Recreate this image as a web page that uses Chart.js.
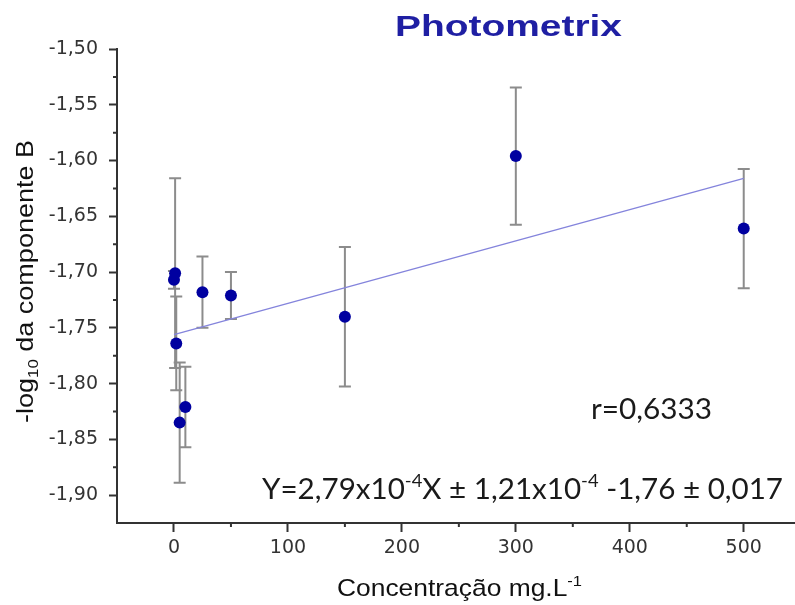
<!DOCTYPE html>
<html>
<head>
<meta charset="utf-8">
<script src="https://cdn.jsdelivr.net/npm/chart.js@4"></script>
<style>
  body { margin: 0; background: #fff; }
  canvas { display: block; }
</style>
</head>
<body>
<canvas id="chart" width="795" height="605"></canvas>
<script>
// Data
const concentration = [0, 1, 2, 5, 10, 25, 50, 150, 300, 500];
const componentB = [-1.707, -1.701, -1.764, -1.835, -1.821, -1.718, -1.721, -1.740, -1.596, -1.661];
const componentBErr = [0.008, 0.085, 0.042, 0.054, 0.036, 0.032, 0.021, 0.0625, 0.0615, 0.0535];

// Fitted line end points
const fitX = [0, 500];
const fitY = [-1.756, -1.616];

// Tick labels
const xTicks = [0, 100, 200, 300, 400, 500];
const xMinorTicks = [50, 150, 250, 350, 450];
const yTicks = [-1.90, -1.85, -1.80, -1.75, -1.70, -1.65, -1.60, -1.55, -1.50];
const yMinorTicks = [-1.875, -1.825, -1.775, -1.725, -1.675, -1.625, -1.575, -1.525];

const axisColor = '#333';

function isMajor(list, v) {
    return list.some(t => Math.abs(t - v) < 1e-6);
}

// Draw a line of text made of parts (sub/superscripts), stretched to a width
function richText(ctx, parts, opt) {
    ctx.save();
    let total = 0;
    const widths = parts.map(p => {
        ctx.font = `${p.bold ? 'bold ' : ''}${p.size}px ${opt.family}`;
        const w = ctx.measureText(p.text).width;
        total += w;
        return w;
    });
    const sx = opt.width ? opt.width / total : 1;
    ctx.translate(opt.x, opt.y);
    if (opt.angle) ctx.rotate(opt.angle);
    ctx.scale(sx, 1);
    ctx.fillStyle = opt.color;
    ctx.textAlign = 'left';
    ctx.textBaseline = 'alphabetic';
    let cx = 0;
    parts.forEach((p, i) => {
        ctx.font = `${p.bold ? 'bold ' : ''}${p.size}px ${opt.family}`;
        ctx.fillText(p.text, cx, p.dy || 0);
        cx += widths[i];
    });
    ctx.restore();
}

// Error bars, drawn under the markers
const errorBars = {
    id: 'errorBars',
    beforeDatasetsDraw(chart) {
        const ctx = chart.ctx;
        const xs = chart.scales.x, ys = chart.scales.y;
        ctx.save();
        ctx.strokeStyle = '#8c8c8c';
        ctx.lineWidth = 2;
        concentration.forEach((c, i) => {
            const px = xs.getPixelForValue(c);
            const top = ys.getPixelForValue(componentB[i] + componentBErr[i]);
            const bot = ys.getPixelForValue(componentB[i] - componentBErr[i]);
            ctx.beginPath();
            ctx.moveTo(px, top); ctx.lineTo(px, bot);
            ctx.moveTo(px - 6, top); ctx.lineTo(px + 6, top);
            ctx.moveTo(px - 6, bot); ctx.lineTo(px + 6, bot);
            ctx.stroke();
        });
        ctx.restore();
    }
};

// Short minor ticks and all the text around the plot
const decorations = {
    id: 'decorations',
    afterDraw(chart) {
        const ctx = chart.ctx;
        const xs = chart.scales.x, ys = chart.scales.y;
        const area = chart.chartArea;
        ctx.save();
        ctx.strokeStyle = axisColor;
        ctx.lineWidth = 2;
        ctx.beginPath();
        xMinorTicks.forEach(v => {
            const px = xs.getPixelForValue(v);
            ctx.moveTo(px, area.bottom); ctx.lineTo(px, area.bottom + 4);
        });
        yMinorTicks.forEach(v => {
            const py = ys.getPixelForValue(v);
            ctx.moveTo(area.left, py); ctx.lineTo(area.left - 4, py);
        });
        ctx.stroke();
        ctx.restore();

        richText(ctx, [{ text: 'Photometrix', size: 29, bold: true }],
            { x: 395, y: 36, width: 227, color: '#1f1fa3', family: '"Liberation Sans", Arial, sans-serif' });

        richText(ctx, [
            { text: '-log', size: 24 },
            { text: '10', size: 15, dy: 5 },
            { text: ' da componente B', size: 24 }
        ], { x: 33, y: 423, width: 283, angle: -Math.PI / 2, color: '#111', family: '"Liberation Sans", Arial, sans-serif' });

        richText(ctx, [
            { text: 'Concentração mg.L', size: 24 },
            { text: '-1', size: 15, dy: -10 }
        ], { x: 337, y: 596, width: 245, color: '#111', family: '"Liberation Sans", Arial, sans-serif' });

        richText(ctx, [{ text: 'r=0,6333', size: 29 }],
            { x: 591, y: 419, width: 121, color: '#1a1a1a', family: 'Lato, sans-serif' });

        richText(ctx, [
            { text: 'Y=2,79x10', size: 29 },
            { text: '-4', size: 18, dy: -12 },
            { text: 'X ± 1,21x10', size: 29 },
            { text: '-4', size: 18, dy: -12 },
            { text: ' -1,76 ± 0,017', size: 29 }
        ], { x: 262, y: 499, width: 521, color: '#1a1a1a', family: 'Lato, sans-serif' });
    }
};

const points = concentration.map((c, i) => ({ x: c, y: componentB[i] }));
const fitPoints = fitX.map((x, i) => ({ x: x, y: fitY[i] }));

new Chart(document.getElementById('chart'), {
    type: 'scatter',
    data: {
        datasets: [{
            label: 'componente B',
            data: points,
            pointRadius: 6,
            pointHoverRadius: 6,
            pointBackgroundColor: '#0000a0',
            pointBorderWidth: 0,
            borderWidth: 0
        }, {
            type: 'line',
            label: 'ajuste',
            data: fitPoints,
            borderColor: '#8484dc',
            borderWidth: 1.3,
            pointRadius: 0,
            fill: false
        }]
    },
    options: {
        responsive: false,
        animation: false,
        events: [],
        layout: { autoPadding: false, padding: { top: 49, right: 0, bottom: 0, left: 0 } },
        plugins: {
            legend: { display: false },
            tooltip: { enabled: false }
        },
        scales: {
            x: {
                type: 'linear',
                min: -50,
                max: 545,
                afterFit: scale => {
                    scale.height = 82;
                    scale.paddingLeft = 0;
                    scale.paddingRight = 0;
                },
                afterBuildTicks: scale => {
                    scale.ticks = [...xTicks, ...xMinorTicks].sort((a, b) => a - b).map(v => ({ value: v }));
                },
                border: { display: true, color: axisColor, width: 2 },
                grid: {
                    drawOnChartArea: false,
                    drawTicks: true,
                    tickLength: 9,
                    tickWidth: 2,
                    tickColor: ctx => (ctx.tick && isMajor(xTicks, ctx.tick.value)) ? axisColor : 'rgba(0,0,0,0)'
                },
                ticks: {
                    padding: 5,
                    maxRotation: 0,
                    autoSkip: false,
                    color: '#333',
                    font: { family: '"DejaVu Sans", sans-serif', size: 19 },
                    callback: v => isMajor(xTicks, v) ? String(v) : ''
                }
            },
            y: {
                type: 'linear',
                min: -1.925,
                max: -1.50,
                afterFit: scale => {
                    scale.width = 117;
                    scale.paddingTop = 0;
                    scale.paddingBottom = 0;
                },
                afterBuildTicks: scale => {
                    scale.ticks = [...yTicks, ...yMinorTicks].sort((a, b) => a - b).map(v => ({ value: v }));
                },
                border: { display: true, color: axisColor, width: 2 },
                grid: {
                    drawOnChartArea: false,
                    drawTicks: true,
                    tickLength: 8,
                    tickWidth: 2,
                    tickColor: ctx => (ctx.tick && isMajor(yTicks, ctx.tick.value)) ? axisColor : 'rgba(0,0,0,0)'
                },
                ticks: {
                    padding: 11,
                    autoSkip: false,
                    color: '#333',
                    font: { family: '"DejaVu Sans", sans-serif', size: 19 },
                    callback: v => isMajor(yTicks, v) ? v.toFixed(2).replace('.', ',') : ''
                }
            }
        }
    },
    plugins: [errorBars, decorations]
});
</script>
</body>
</html>
